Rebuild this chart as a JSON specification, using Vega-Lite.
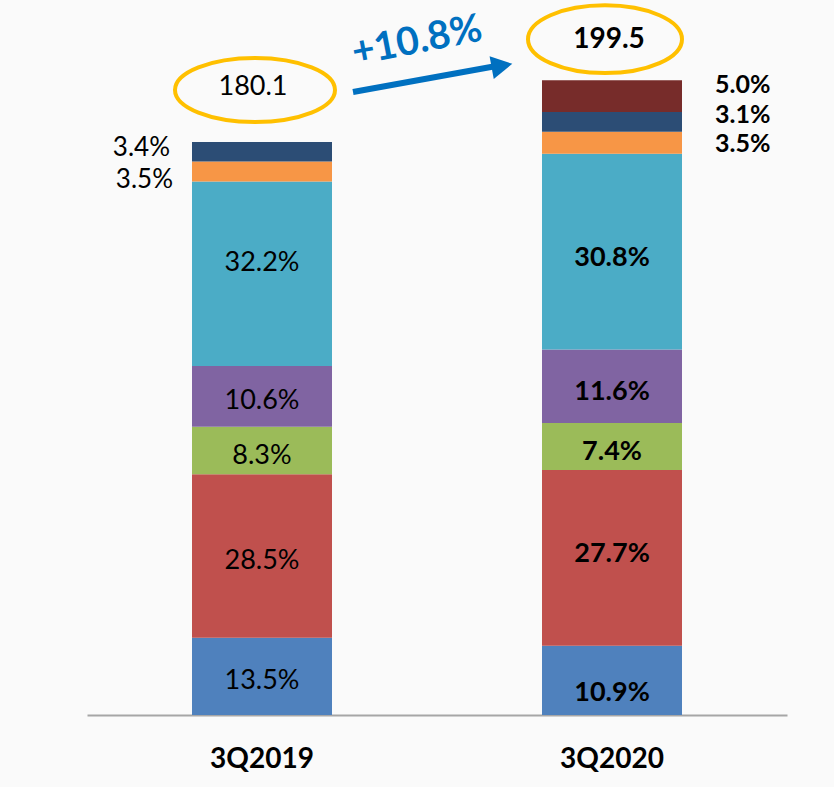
{
  "$schema": "https://vega.github.io/schema/vega-lite/v6.json",
  "width": 700,
  "height": 700,
  "autosize": {"type": "none"},
  "padding": {"left": 87, "top": 15, "right": 47, "bottom": 72},
  "background": "#FAFAFA",
  "config": {"view": {"stroke": null}, "text": {"font": "Lato", "color": "#000000"}},
  "datasets": {
    "segments": [
      {"period": "3Q2019", "seg": "Seg 1", "order": 1, "pct": "13.5%", "value": 24.31},
      {"period": "3Q2019", "seg": "Seg 2", "order": 2, "pct": "28.5%", "value": 51.33},
      {"period": "3Q2019", "seg": "Seg 3", "order": 3, "pct": "8.3%", "value": 14.95},
      {"period": "3Q2019", "seg": "Seg 4", "order": 4, "pct": "10.6%", "value": 19.09},
      {"period": "3Q2019", "seg": "Seg 5", "order": 5, "pct": "32.2%", "value": 57.99},
      {"period": "3Q2019", "seg": "Seg 6", "order": 6, "pct": "3.5%", "value": 6.30},
      {"period": "3Q2019", "seg": "Seg 7", "order": 7, "pct": "3.4%", "value": 6.12},
      {"period": "3Q2020", "seg": "Seg 1", "order": 1, "pct": "10.9%", "value": 21.75},
      {"period": "3Q2020", "seg": "Seg 2", "order": 2, "pct": "27.7%", "value": 55.26},
      {"period": "3Q2020", "seg": "Seg 3", "order": 3, "pct": "7.4%", "value": 14.76},
      {"period": "3Q2020", "seg": "Seg 4", "order": 4, "pct": "11.6%", "value": 23.14},
      {"period": "3Q2020", "seg": "Seg 5", "order": 5, "pct": "30.8%", "value": 61.45},
      {"period": "3Q2020", "seg": "Seg 6", "order": 6, "pct": "3.5%", "value": 6.98},
      {"period": "3Q2020", "seg": "Seg 7", "order": 7, "pct": "3.1%", "value": 6.18},
      {"period": "3Q2020", "seg": "Seg 8", "order": 8, "pct": "5.0%", "value": 9.98}
    ],
    "totals": [
      {"period": "3Q2019", "total": 180.1, "label": "180.1"},
      {"period": "3Q2020", "total": 199.5, "label": "199.5"}
    ],
    "growth": [
      {"period": "3Q2019", "to": "3Q2020", "t0": 180.1, "t1": 199.5, "label": "+10.8%"}
    ]
  },
  "encoding": {
    "x": {
      "field": "period",
      "type": "nominal",
      "title": null,
      "scale": {"paddingInner": 0.6, "paddingOuter": 0.3},
      "axis": {
        "title": null,
        "domainColor": "#A6A6A6",
        "domainWidth": 2,
        "ticks": false,
        "tickSize": 0,
        "grid": false,
        "labelPadding": 30,
        "labelAngle": 0,
        "labelFont": "Lato",
        "labelFontSize": 28,
        "labelFontWeight": "bold",
        "labelColor": "#000000"
      }
    }
  },
  "layer": [
    {
      "data": {"name": "segments"},
      "transform": [
        {"stack": "value", "groupby": ["period"], "sort": [{"field": "order", "order": "ascending"}], "as": ["v0", "v1"]},
        {"calculate": "(datum.v0 + datum.v1) / 2", "as": "mid"}
      ],
      "layer": [
        {
          "mark": {"type": "bar"},
          "encoding": {
            "y": {"field": "v1", "type": "quantitative", "scale": {"domain": [0, 220], "nice": false, "zero": true}, "axis": null, "title": null},
            "y2": {"field": "v0"},
            "color": {
              "field": "seg",
              "type": "nominal",
              "legend": null,
              "scale": {
                "domain": ["Seg 1", "Seg 2", "Seg 3", "Seg 4", "Seg 5", "Seg 6", "Seg 7", "Seg 8"],
                "range": ["#4F81BD", "#C0504D", "#9BBB59", "#8064A2", "#4BACC6", "#F79646", "#2C4D75", "#772C2A"]
              }
            }
          }
        },
        {
          "transform": [{"filter": {"and": [{"field": "period", "equal": "3Q2019"}, {"field": "order", "lte": 4}]}}],
          "mark": {"type": "text", "fontSize": 27, "dy": 5},
          "encoding": {"y": {"field": "mid", "type": "quantitative", "axis": null}, "text": {"field": "pct"}}
        },
        {
          "transform": [{"filter": {"and": [{"field": "period", "equal": "3Q2019"}, {"field": "order", "equal": 5}]}}],
          "mark": {"type": "text", "fontSize": 27, "dy": -11},
          "encoding": {"y": {"field": "mid", "type": "quantitative", "axis": null}, "text": {"field": "pct"}}
        },
        {
          "transform": [{"filter": {"and": [{"field": "period", "equal": "3Q2019"}, {"field": "order", "equal": 6}]}}],
          "mark": {"type": "text", "fontSize": 26, "align": "right", "xOffset": -89, "dy": 9},
          "encoding": {"y": {"field": "mid", "type": "quantitative", "axis": null}, "text": {"field": "pct"}}
        },
        {
          "transform": [{"filter": {"and": [{"field": "period", "equal": "3Q2019"}, {"field": "order", "equal": 7}]}}],
          "mark": {"type": "text", "fontSize": 26, "align": "right", "xOffset": -92, "dy": -4},
          "encoding": {"y": {"field": "mid", "type": "quantitative", "axis": null}, "text": {"field": "pct"}}
        },
        {
          "transform": [{"filter": {"and": [{"field": "period", "equal": "3Q2020"}, {"field": "order", "gte": 3}, {"field": "order", "lte": 5}]}}],
          "mark": {"type": "text", "fontSize": 27, "fontWeight": "bold", "dy": 6},
          "encoding": {"y": {"field": "mid", "type": "quantitative", "axis": null}, "text": {"field": "pct"}}
        },
        {
          "transform": [{"filter": {"and": [{"field": "period", "equal": "3Q2020"}, {"field": "order", "equal": 1}]}}],
          "mark": {"type": "text", "fontSize": 27, "fontWeight": "bold", "dy": 13},
          "encoding": {"y": {"field": "mid", "type": "quantitative", "axis": null}, "text": {"field": "pct"}}
        },
        {
          "transform": [{"filter": {"and": [{"field": "period", "equal": "3Q2020"}, {"field": "order", "equal": 2}]}}],
          "mark": {"type": "text", "fontSize": 27, "fontWeight": "bold", "dy": -4},
          "encoding": {"y": {"field": "mid", "type": "quantitative", "axis": null}, "text": {"field": "pct"}}
        },
        {
          "transform": [{"filter": {"and": [{"field": "period", "equal": "3Q2020"}, {"field": "order", "equal": 6}]}}],
          "mark": {"type": "text", "fontSize": 25, "fontWeight": "bold", "align": "left", "xOffset": 103, "dy": 1},
          "encoding": {"y": {"field": "mid", "type": "quantitative", "axis": null}, "text": {"field": "pct"}}
        },
        {
          "transform": [{"filter": {"and": [{"field": "period", "equal": "3Q2020"}, {"field": "order", "equal": 7}]}}],
          "mark": {"type": "text", "fontSize": 25, "fontWeight": "bold", "align": "left", "xOffset": 103, "dy": -7},
          "encoding": {"y": {"field": "mid", "type": "quantitative", "axis": null}, "text": {"field": "pct"}}
        },
        {
          "transform": [{"filter": {"and": [{"field": "period", "equal": "3Q2020"}, {"field": "order", "equal": 8}]}}],
          "mark": {"type": "text", "fontSize": 25, "fontWeight": "bold", "align": "left", "xOffset": 103, "dy": -11},
          "encoding": {"y": {"field": "mid", "type": "quantitative", "axis": null}, "text": {"field": "pct"}}
        }
      ]
    },
    {
      "data": {"name": "totals"},
      "transform": [{"filter": {"field": "period", "equal": "3Q2019"}}],
      "layer": [
        {
          "mark": {
            "type": "point",
            "shape": "M-1,0C-1,-0.221,-0.552,-0.4,0,-0.4C0.552,-0.4,1,-0.221,1,0C1,0.221,0.552,0.4,0,0.4C-0.552,0.4,-1,0.221,-1,0Z",
            "size": 25600,
            "filled": false,
            "stroke": "#FFC000",
            "strokeWidth": 4,
            "opacity": 1,
            "xOffset": -7,
            "yOffset": -52
          },
          "encoding": {"y": {"field": "total", "type": "quantitative", "axis": null}}
        },
        {
          "mark": {"type": "text", "fontSize": 27, "xOffset": -9, "yOffset": -55},
          "encoding": {"y": {"field": "total", "type": "quantitative", "axis": null}, "text": {"field": "label"}}
        }
      ]
    },
    {
      "data": {"name": "totals"},
      "transform": [{"filter": {"field": "period", "equal": "3Q2020"}}],
      "layer": [
        {
          "mark": {
            "type": "point",
            "shape": "M-1,0C-1,-0.243,-0.552,-0.44,0,-0.44C0.552,-0.44,1,-0.243,1,0C1,0.243,0.552,0.44,0,0.44C-0.552,0.44,-1,0.243,-1,0Z",
            "size": 23716,
            "filled": false,
            "stroke": "#FFC000",
            "strokeWidth": 4,
            "opacity": 1,
            "xOffset": -7,
            "yOffset": -41
          },
          "encoding": {"y": {"field": "total", "type": "quantitative", "axis": null}}
        },
        {
          "mark": {"type": "text", "fontSize": 28, "fontWeight": "bold", "xOffset": -3, "yOffset": -40},
          "encoding": {"y": {"field": "total", "type": "quantitative", "axis": null}, "text": {"field": "label"}}
        }
      ]
    },
    {
      "data": {"name": "growth"},
      "layer": [
        {
          "mark": {"type": "rule", "color": "#0070C0", "strokeWidth": 6, "xOffset": 91, "x2Offset": -117, "yOffset": -50, "y2Offset": -14},
          "encoding": {
            "x2": {"field": "to"},
            "y": {"field": "t0", "type": "quantitative", "axis": null},
            "y2": {"field": "t1"}
          }
        },
        {
          "mark": {"type": "point", "shape": "M1,0L-1,-1.1L-1,1.1Z", "size": 441, "filled": true, "fill": "#0070C0", "stroke": null, "opacity": 1, "angle": 349.6, "xOffset": -110, "yOffset": -14.5},
          "encoding": {
            "x": {"field": "to", "type": "nominal", "title": null},
            "y": {"field": "t1", "type": "quantitative", "axis": null}
          }
        },
        {
          "mark": {"type": "text", "fontSize": 39, "fontWeight": "bold", "color": "#0070C0", "angle": 349, "xOffset": 155, "yOffset": -101},
          "encoding": {
            "y": {"field": "t0", "type": "quantitative", "axis": null},
            "text": {"field": "label"}
          }
        }
      ]
    }
  ]
}
